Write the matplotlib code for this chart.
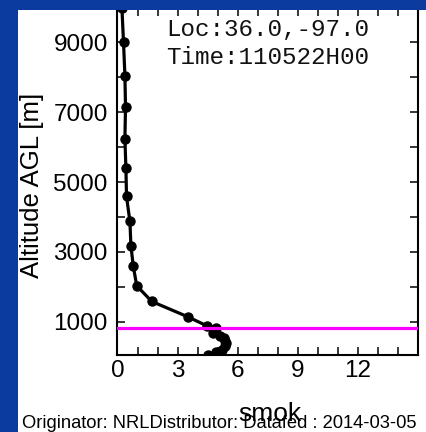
import numpy as np
import matplotlib
matplotlib.use("Agg")
import matplotlib.pyplot as plt
from matplotlib.patches import Rectangle
from matplotlib.ticker import MultipleLocator

# profile: altitude AGL [m] vs smok
altitude = [50, 120, 200, 290, 380, 460, 530, 600, 673, 750, 816, 883,
            1132, 1579, 2029, 2582, 3175, 3871, 4588, 5401, 6232, 7157,
            8046, 9010, 10000]
smok = [4.5, 4.9, 5.2, 5.35, 5.4, 5.35, 5.3, 5.1, 4.75, 4.8, 4.9, 4.45,
        3.54, 1.71, 0.96, 0.79, 0.67, 0.62, 0.45, 0.42, 0.37, 0.40,
        0.37, 0.30, 0.22]
pbl_height = 820  # magenta line
yticks = [1000, 3000, 5000, 7000, 9000]
xticks = [0, 3, 6, 9, 12]

W, H = 427, 432
fig = plt.figure(figsize=(W / 100, H / 100), dpi=100)
fig.patch.set_facecolor("#0b3b9e")

# white panel behind the chart
fig.add_artist(Rectangle((18 / W, 0), 1 - 18 / W, 1 - 10 / H,
                         transform=fig.transFigure, facecolor="white",
                         edgecolor="none", zorder=-1))

ax = fig.add_axes([117.5 / W, 1 - 355 / H, 300.5 / W, (355 - 7.6) / H])
ax.set_facecolor("white")

ax.plot(smok, altitude, color="black", lw=2.3, marker="o", ms=6.5,
        zorder=3, clip_on=True)
ax.axhline(pbl_height, color="#ff00ff", lw=2.3, zorder=4)

ax.set_xlim(0, 15)
ax.set_ylim(45, 10000)
ax.set_xticks(xticks)
ax.set_yticks(yticks)
ax.xaxis.set_minor_locator(MultipleLocator(1))
ax.yaxis.set_minor_locator(MultipleLocator(1000))

for s in ax.spines.values():
    s.set_linewidth(1.5)

ax.tick_params(which="both", direction="in", top=True, right=True,
               length=5.5, width=1.1, color="black")
ax.tick_params(axis="y", which="major", pad=7, labelsize=17.5)
ax.tick_params(axis="x", which="major", pad=3.5, labelsize=17.5)
for lab in ax.get_xticklabels() + ax.get_yticklabels():
    lab.set_fontfamily("Liberation Sans")

# annotation box text, positions in pixels converted to axes fraction
ax_h = 355 - 7.6
ax.text((166 - 117.5) / 300.5, 1 - (36 - 7.6) / ax_h, "Loc:36.0,-97.0",
        transform=ax.transAxes, family="Liberation Mono", fontsize=17.5,
        va="baseline", ha="left", color="#111111")
ax.text((166 - 117.5) / 300.5, 1 - (64 - 7.6) / ax_h, "Time:110522H00",
        transform=ax.transAxes, family="Liberation Mono", fontsize=17.5,
        va="baseline", ha="left", color="#111111")

fig.text(32 / W, 1 - 185 / H, "Altitude AGL [m]", rotation=90,
         family="Liberation Sans", fontsize=18.5, ha="center", va="center")
fig.text(270 / W, 1 - 421 / H, "smok", family="Liberation Sans",
         fontsize=19, ha="center", va="baseline")
fig.text(22 / W, 1 - 428.5 / H,
         "Originator: NRLDistributor: Datafed : 2014-03-05",
         family="Liberation Sans", fontsize=13.2, ha="left", va="baseline")

# blue band across the top hides the top spine, as in the original
fig.add_artist(Rectangle((0, 1 - 10 / H), 1, 10 / H,
                         transform=fig.transFigure, facecolor="#0b3b9e",
                         edgecolor="none", zorder=10))
fig.add_artist(Rectangle((0, 0), 18 / W, 1,
                         transform=fig.transFigure, facecolor="#0b3b9e",
                         edgecolor="none", zorder=10))

fig.savefig("out.png", dpi=100, facecolor=fig.get_facecolor())
